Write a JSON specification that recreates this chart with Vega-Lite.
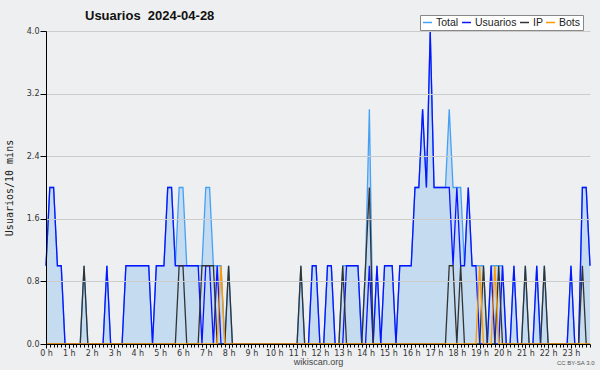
{
"$schema": "https://vega.github.io/schema/vega-lite/v6.json",
"width": 544, "height": 313,
"autosize": {"type": "none"},
"padding": {"left": 46, "top": 31, "right": 10, "bottom": 26},
"background": "#eeeff0",
"config": {"view": {"stroke": null, "fill": "#eeeff0"}, "font": "Liberation Sans"},
"title": {"text": "Usuarios\u00a0 2024-04-28", "anchor": "start", "frame": "group", "dx": 39, "offset": 9, "dy": 17, "font": "Liberation Sans", "fontSize": 13, "fontWeight": "bold", "color": "#111"},
"data": {"values": [
{"m":0,"Total":1,"Usuarios":1,"IP":0,"Bots":0},
{"m":10,"Total":2,"Usuarios":2,"IP":0,"Bots":0},
{"m":20,"Total":2,"Usuarios":2,"IP":0,"Bots":0},
{"m":30,"Total":1,"Usuarios":1,"IP":0,"Bots":0},
{"m":40,"Total":1,"Usuarios":1,"IP":0,"Bots":0},
{"m":50,"Total":0,"Usuarios":0,"IP":0,"Bots":0},
{"m":60,"Total":0,"Usuarios":0,"IP":0,"Bots":0},
{"m":70,"Total":0,"Usuarios":0,"IP":0,"Bots":0},
{"m":80,"Total":0,"Usuarios":0,"IP":0,"Bots":0},
{"m":90,"Total":0,"Usuarios":0,"IP":0,"Bots":0},
{"m":100,"Total":1,"Usuarios":0,"IP":1,"Bots":0},
{"m":110,"Total":0,"Usuarios":0,"IP":0,"Bots":0},
{"m":120,"Total":0,"Usuarios":0,"IP":0,"Bots":0},
{"m":130,"Total":0,"Usuarios":0,"IP":0,"Bots":0},
{"m":140,"Total":0,"Usuarios":0,"IP":0,"Bots":0},
{"m":150,"Total":0,"Usuarios":0,"IP":0,"Bots":0},
{"m":160,"Total":1,"Usuarios":1,"IP":0,"Bots":0},
{"m":170,"Total":0,"Usuarios":0,"IP":0,"Bots":0},
{"m":180,"Total":0,"Usuarios":0,"IP":0,"Bots":0},
{"m":190,"Total":0,"Usuarios":0,"IP":0,"Bots":0},
{"m":200,"Total":0,"Usuarios":0,"IP":0,"Bots":0},
{"m":210,"Total":1,"Usuarios":1,"IP":0,"Bots":0},
{"m":220,"Total":1,"Usuarios":1,"IP":0,"Bots":0},
{"m":230,"Total":1,"Usuarios":1,"IP":0,"Bots":0},
{"m":240,"Total":1,"Usuarios":1,"IP":0,"Bots":0},
{"m":250,"Total":1,"Usuarios":1,"IP":0,"Bots":0},
{"m":260,"Total":1,"Usuarios":1,"IP":0,"Bots":0},
{"m":270,"Total":1,"Usuarios":1,"IP":0,"Bots":0},
{"m":280,"Total":0,"Usuarios":0,"IP":0,"Bots":0},
{"m":290,"Total":1,"Usuarios":1,"IP":0,"Bots":0},
{"m":300,"Total":1,"Usuarios":1,"IP":0,"Bots":0},
{"m":310,"Total":1,"Usuarios":1,"IP":0,"Bots":0},
{"m":320,"Total":2,"Usuarios":2,"IP":0,"Bots":0},
{"m":330,"Total":2,"Usuarios":2,"IP":0,"Bots":0},
{"m":340,"Total":1,"Usuarios":1,"IP":0,"Bots":0},
{"m":350,"Total":2,"Usuarios":1,"IP":1,"Bots":0},
{"m":360,"Total":2,"Usuarios":1,"IP":1,"Bots":0},
{"m":370,"Total":1,"Usuarios":1,"IP":0,"Bots":0},
{"m":380,"Total":1,"Usuarios":1,"IP":0,"Bots":0},
{"m":390,"Total":1,"Usuarios":1,"IP":0,"Bots":0},
{"m":400,"Total":1,"Usuarios":1,"IP":0,"Bots":0},
{"m":410,"Total":1,"Usuarios":0,"IP":1,"Bots":0},
{"m":420,"Total":2,"Usuarios":1,"IP":1,"Bots":0},
{"m":430,"Total":2,"Usuarios":1,"IP":1,"Bots":0},
{"m":440,"Total":1,"Usuarios":0,"IP":1,"Bots":0},
{"m":450,"Total":1,"Usuarios":1,"IP":0,"Bots":0},
{"m":460,"Total":1,"Usuarios":0,"IP":0,"Bots":1},
{"m":470,"Total":0,"Usuarios":0,"IP":0,"Bots":0},
{"m":480,"Total":1,"Usuarios":0,"IP":1,"Bots":0},
{"m":490,"Total":0,"Usuarios":0,"IP":0,"Bots":0},
{"m":500,"Total":0,"Usuarios":0,"IP":0,"Bots":0},
{"m":510,"Total":0,"Usuarios":0,"IP":0,"Bots":0},
{"m":520,"Total":0,"Usuarios":0,"IP":0,"Bots":0},
{"m":530,"Total":0,"Usuarios":0,"IP":0,"Bots":0},
{"m":540,"Total":0,"Usuarios":0,"IP":0,"Bots":0},
{"m":550,"Total":0,"Usuarios":0,"IP":0,"Bots":0},
{"m":560,"Total":0,"Usuarios":0,"IP":0,"Bots":0},
{"m":570,"Total":0,"Usuarios":0,"IP":0,"Bots":0},
{"m":580,"Total":0,"Usuarios":0,"IP":0,"Bots":0},
{"m":590,"Total":0,"Usuarios":0,"IP":0,"Bots":0},
{"m":600,"Total":0,"Usuarios":0,"IP":0,"Bots":0},
{"m":610,"Total":0,"Usuarios":0,"IP":0,"Bots":0},
{"m":620,"Total":0,"Usuarios":0,"IP":0,"Bots":0},
{"m":630,"Total":0,"Usuarios":0,"IP":0,"Bots":0},
{"m":640,"Total":0,"Usuarios":0,"IP":0,"Bots":0},
{"m":650,"Total":0,"Usuarios":0,"IP":0,"Bots":0},
{"m":660,"Total":0,"Usuarios":0,"IP":0,"Bots":0},
{"m":670,"Total":1,"Usuarios":0,"IP":1,"Bots":0},
{"m":680,"Total":0,"Usuarios":0,"IP":0,"Bots":0},
{"m":690,"Total":0,"Usuarios":0,"IP":0,"Bots":0},
{"m":700,"Total":1,"Usuarios":1,"IP":0,"Bots":0},
{"m":710,"Total":1,"Usuarios":1,"IP":0,"Bots":0},
{"m":720,"Total":0,"Usuarios":0,"IP":0,"Bots":0},
{"m":730,"Total":0,"Usuarios":0,"IP":0,"Bots":0},
{"m":740,"Total":1,"Usuarios":1,"IP":0,"Bots":0},
{"m":750,"Total":1,"Usuarios":1,"IP":0,"Bots":0},
{"m":760,"Total":0,"Usuarios":0,"IP":0,"Bots":0},
{"m":770,"Total":0,"Usuarios":0,"IP":0,"Bots":0},
{"m":780,"Total":1,"Usuarios":0,"IP":1,"Bots":0},
{"m":790,"Total":1,"Usuarios":1,"IP":0,"Bots":0},
{"m":800,"Total":1,"Usuarios":1,"IP":0,"Bots":0},
{"m":810,"Total":1,"Usuarios":1,"IP":0,"Bots":0},
{"m":820,"Total":1,"Usuarios":1,"IP":0,"Bots":0},
{"m":830,"Total":0,"Usuarios":0,"IP":0,"Bots":0},
{"m":840,"Total":1,"Usuarios":0,"IP":1,"Bots":0},
{"m":850,"Total":3,"Usuarios":1,"IP":2,"Bots":0},
{"m":860,"Total":0,"Usuarios":0,"IP":0,"Bots":0},
{"m":870,"Total":1,"Usuarios":1,"IP":0,"Bots":0},
{"m":880,"Total":0,"Usuarios":0,"IP":0,"Bots":0},
{"m":890,"Total":1,"Usuarios":1,"IP":0,"Bots":0},
{"m":900,"Total":1,"Usuarios":1,"IP":0,"Bots":0},
{"m":910,"Total":1,"Usuarios":1,"IP":0,"Bots":0},
{"m":920,"Total":0,"Usuarios":0,"IP":0,"Bots":0},
{"m":930,"Total":1,"Usuarios":1,"IP":0,"Bots":0},
{"m":940,"Total":1,"Usuarios":1,"IP":0,"Bots":0},
{"m":950,"Total":1,"Usuarios":1,"IP":0,"Bots":0},
{"m":960,"Total":1,"Usuarios":1,"IP":0,"Bots":0},
{"m":970,"Total":2,"Usuarios":2,"IP":0,"Bots":0},
{"m":980,"Total":2,"Usuarios":2,"IP":0,"Bots":0},
{"m":990,"Total":3,"Usuarios":3,"IP":0,"Bots":0},
{"m":1000,"Total":2,"Usuarios":2,"IP":0,"Bots":0},
{"m":1010,"Total":4,"Usuarios":4,"IP":0,"Bots":0},
{"m":1020,"Total":2,"Usuarios":2,"IP":0,"Bots":0},
{"m":1030,"Total":2,"Usuarios":2,"IP":0,"Bots":0},
{"m":1040,"Total":2,"Usuarios":2,"IP":0,"Bots":0},
{"m":1050,"Total":2,"Usuarios":2,"IP":0,"Bots":0},
{"m":1060,"Total":3,"Usuarios":2,"IP":1,"Bots":0},
{"m":1070,"Total":2,"Usuarios":1,"IP":1,"Bots":0},
{"m":1080,"Total":2,"Usuarios":2,"IP":0,"Bots":0},
{"m":1090,"Total":2,"Usuarios":1,"IP":1,"Bots":0},
{"m":1100,"Total":1,"Usuarios":1,"IP":0,"Bots":0},
{"m":1110,"Total":2,"Usuarios":2,"IP":0,"Bots":0},
{"m":1120,"Total":1,"Usuarios":1,"IP":0,"Bots":0},
{"m":1130,"Total":1,"Usuarios":1,"IP":0,"Bots":0},
{"m":1140,"Total":1,"Usuarios":0,"IP":0,"Bots":1},
{"m":1150,"Total":1,"Usuarios":0,"IP":1,"Bots":0},
{"m":1160,"Total":0,"Usuarios":0,"IP":0,"Bots":0},
{"m":1170,"Total":1,"Usuarios":1,"IP":0,"Bots":0},
{"m":1180,"Total":1,"Usuarios":0,"IP":0,"Bots":1},
{"m":1190,"Total":1,"Usuarios":0,"IP":1,"Bots":0},
{"m":1200,"Total":1,"Usuarios":1,"IP":0,"Bots":0},
{"m":1210,"Total":0,"Usuarios":0,"IP":0,"Bots":0},
{"m":1220,"Total":0,"Usuarios":0,"IP":0,"Bots":0},
{"m":1230,"Total":1,"Usuarios":1,"IP":0,"Bots":0},
{"m":1240,"Total":0,"Usuarios":0,"IP":0,"Bots":0},
{"m":1250,"Total":0,"Usuarios":0,"IP":0,"Bots":0},
{"m":1260,"Total":1,"Usuarios":0,"IP":1,"Bots":0},
{"m":1270,"Total":0,"Usuarios":0,"IP":0,"Bots":0},
{"m":1280,"Total":0,"Usuarios":0,"IP":0,"Bots":0},
{"m":1290,"Total":1,"Usuarios":1,"IP":0,"Bots":0},
{"m":1300,"Total":0,"Usuarios":0,"IP":0,"Bots":0},
{"m":1310,"Total":1,"Usuarios":0,"IP":1,"Bots":0},
{"m":1320,"Total":0,"Usuarios":0,"IP":0,"Bots":0},
{"m":1330,"Total":0,"Usuarios":0,"IP":0,"Bots":0},
{"m":1340,"Total":0,"Usuarios":0,"IP":0,"Bots":0},
{"m":1350,"Total":0,"Usuarios":0,"IP":0,"Bots":0},
{"m":1360,"Total":0,"Usuarios":0,"IP":0,"Bots":0},
{"m":1370,"Total":0,"Usuarios":0,"IP":0,"Bots":0},
{"m":1380,"Total":1,"Usuarios":1,"IP":0,"Bots":0},
{"m":1390,"Total":0,"Usuarios":0,"IP":0,"Bots":0},
{"m":1400,"Total":0,"Usuarios":0,"IP":0,"Bots":0},
{"m":1410,"Total":2,"Usuarios":2,"IP":1,"Bots":0},
{"m":1420,"Total":2,"Usuarios":2,"IP":0,"Bots":0},
{"m":1430,"Total":1,"Usuarios":1,"IP":0,"Bots":0}
]},
"transform": [{"fold": ["Total", "Usuarios", "IP", "Bots"], "as": ["serie", "v"]}],
"layer": [
{
 "transform": [{"filter": "datum.serie == 'Total'"}],
 "mark": {"type": "area", "color": "#c5dcf0", "opacity": 1},
 "encoding": {
  "x": {"field": "m", "type": "quantitative", "scale": {"domain": [0, 1430], "nice": false, "zero": false},
   "axis": {"orient": "bottom", "title": "CC BY-SA 3.0", "labels": false, "ticks": false, "domain": false, "grid": false, "titleFont": "Liberation Sans", "titleFontSize": 6, "titleFontWeight": "normal", "titleColor": "#555", "titleAnchor": "end", "titleAlign": "right", "titleX": 548, "titleY": 15}},
  "y": {"field": "v", "type": "quantitative", "scale": {"domain": [0, 4], "nice": false}, "stack": null,
   "axis": {"values": [0,0.2,0.4,0.6,0.8,1,1.2,1.4,1.6,1.8,2,2.2,2.4,2.6,2.8,3,3.2,3.4,3.6,3.8,4],
    "zindex": 1,
    "labelExpr": "abs(datum.value/0.8 - round(datum.value/0.8)) < 0.01 ? format(datum.value, '.1f') : ''",
    "labelFont": "DejaVu Sans", "labelFontSize": 8, "labelColor": "#333", "labelPadding": 1, "labelOverlap": false,
    "tickColor": "#000", "tickSize": {"condition": {"test": "abs(datum.value/0.8 - round(datum.value/0.8)) < 0.01", "value": 6}, "value": 3},
    "domainColor": "#000", "domainWidth": 1,
    "grid": true, "gridColor": "#cccccc", "gridOpacity": {"condition": {"test": "abs(datum.value/0.8 - round(datum.value/0.8)) < 0.01 && datum.value > 0", "value": 1}, "value": 0},
    "title": "Usuarios/10 mins", "titleFont": "DejaVu Sans Mono", "titleFontSize": 10, "titleFontWeight": "normal", "titleColor": "#222", "titlePadding": 12}}
 }
},
{
 "mark": {"type": "line", "strokeWidth": 1.3, "interpolate": "linear"},
 "encoding": {
  "x": {"field": "m", "type": "quantitative", "scale": {"domain": [0, 1430], "nice": false, "zero": false},
   "axis": {"orient": "bottom", "tickCount": 144, "zindex": 1, "labelExpr": "datum.value % 60 == 0 ? (datum.value / 60) + ' h' : ''",
    "labelFont": "DejaVu Sans", "labelFontSize": 8, "labelColor": "#333", "labelPadding": 1, "labelOverlap": false, "labelFlush": false, "labelBound": false,
    "tickColor": "#000", "tickSize": {"condition": {"test": "datum.value % 60 == 0", "value": 4}, "value": 3},
    "domainColor": "#000", "grid": false,
    "title": "wikiscan.org", "titleFont": "Liberation Sans", "titleFontSize": 9, "titleFontWeight": "normal", "titleColor": "#444", "titlePadding": 0}},
  "y": {"field": "v", "type": "quantitative"},
  "color": {"field": "serie", "type": "nominal",
   "scale": {"domain": ["Total", "Usuarios", "IP", "Bots"], "range": ["#45a0f5", "#0a14ff", "#333333", "#ff9900"]},
   "legend": {"orient": "none", "legendX": 374, "legendY": -16, "direction": "horizontal", "title": null,
    "symbolType": "stroke", "symbolSize": 81, "symbolStrokeWidth": 1.5,
    "labelFont": "Liberation Sans", "labelFontSize": 10.5, "labelColor": "#222", "labelOffset": 3,
    "columnPadding": 0, "padding": 2, "fillColor": "#ffffff", "strokeColor": "#888888"}}
 }
}
],
"resolve": {"axis": {"x": "independent"}}
}
